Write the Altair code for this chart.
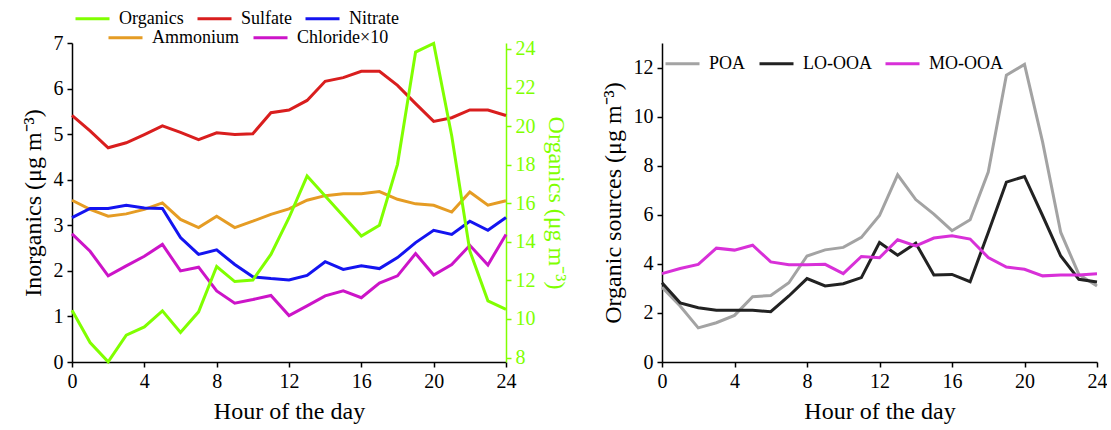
import altair as alt
import pandas as pd

hours = list(range(25))
organics = [10.45, 8.78, 7.78, 9.16, 9.59, 10.42, 9.30, 10.37, 12.72, 11.94, 12.02, 13.35, 15.25,
            17.41, 16.38, 15.34, 14.30, 14.86, 18.02, 23.84, 24.29, 19.49, 13.53, 10.94, 10.50]
sulfate = [5.41, 5.07, 4.70, 4.81, 4.99, 5.18, 5.04, 4.88, 5.03, 4.99, 5.01, 5.47, 5.53,
           5.74, 6.16, 6.24, 6.38, 6.38, 6.07, 5.67, 5.28, 5.36, 5.53, 5.53, 5.41]
nitrate = [3.17, 3.37, 3.37, 3.44, 3.38, 3.37, 2.73, 2.36, 2.46, 2.14, 1.87, 1.83, 1.80,
           1.90, 2.20, 2.03, 2.11, 2.05, 2.29, 2.62, 2.89, 2.80, 3.09, 2.89, 3.17]
ammonium = [3.55, 3.35, 3.20, 3.25, 3.35, 3.49, 3.13, 2.95, 3.20, 2.95, 3.09, 3.24, 3.36,
            3.55, 3.65, 3.69, 3.69, 3.74, 3.57, 3.47, 3.44, 3.29, 3.73, 3.44, 3.54]
chloride10 = [2.81, 2.43, 1.89, 2.11, 2.32, 2.58, 2.00, 2.08, 1.56, 1.29, 1.37, 1.46, 1.02,
              1.23, 1.45, 1.56, 1.41, 1.73, 1.89, 2.38, 1.91, 2.14, 2.56, 2.13, 2.80]
poa = [3.05, 2.28, 1.39, 1.60, 1.90, 2.66, 2.71, 3.23, 4.32, 4.57, 4.67, 5.08, 5.97,
       7.63, 6.62, 6.03, 5.35, 5.80, 7.74, 11.69, 12.13, 8.96, 5.28, 3.57, 3.10]
lo_ooa = [3.23, 2.41, 2.21, 2.11, 2.11, 2.11, 2.05, 2.69, 3.40, 3.10, 3.19, 3.44, 4.87,
          4.35, 4.84, 3.55, 3.57, 3.27, 5.28, 7.33, 7.56, 5.96, 4.32, 3.37, 3.26]
mo_ooa = [3.60, 3.81, 3.98, 4.64, 4.56, 4.76, 4.08, 3.96, 3.96, 3.98, 3.60, 4.30, 4.25,
          4.98, 4.73, 5.05, 5.14, 5.01, 4.26, 3.87, 3.78, 3.51, 3.55, 3.55, 3.60]

x_ticks = [0, 4, 8, 12, 16, 20, 24]
left_ticks = [0, 1, 2, 3, 4, 5, 6, 7]
org_ticks = [8, 10, 12, 14, 16, 18, 20, 22, 24]
src_ticks = [0, 2, 4, 6, 8, 10, 12]

row1_names = ["Organics", "Sulfate", "Nitrate"]
row1_colors = ["#80FF00", "#D91E1E", "#1414F0"]
row2_names = ["Ammonium", "Chloride×10"]
row2_colors = ["#E59C24", "#CC14C8"]
src_names = ["POA", "LO-OOA", "MO-OOA"]
src_colors = ["#A3A3A3", "#222222", "#D830D8"]

GREEN = "#80FF00"
FONT = "Liberation Serif"


def long(names, series):
    rows = []
    for n, s in zip(names, series):
        for h, v in zip(hours, s):
            rows.append({"hour": h, "value": v, "series": n})
    return pd.DataFrame(rows)


df_org = long(["Organics"], [organics])
df_b = long(["Sulfate", "Nitrate"], [sulfate, nitrate])
df_c = long(row2_names, [ammonium, chloride10])
df_src = long(src_names, [poa, lo_ooa, mo_ooa])

W, H = 434, 319

axis_common = dict(grid=False, labelFont=FONT, titleFont=FONT, labelFontSize=20,
                   titleFontSize=24, titleFontWeight="normal")

x_enc = alt.X("hour:Q", scale=alt.Scale(domain=[0, 24], nice=False),
              axis=alt.Axis(values=x_ticks, title="Hour of the day", labelFlush=False,
                            **axis_common))

legend_common = dict(orient="none", direction="horizontal", title=None,
                     symbolType="stroke", symbolSize=1156, symbolStrokeWidth=3,
                     labelFontSize=18, labelFont=FONT, labelColor="black",
                     labelOffset=8, columnPadding=7, padding=0)

color_scale = alt.Scale(domain=row1_names, range=row1_colors)

layer_b = alt.Chart(df_b).mark_line(strokeWidth=3).encode(
    x=x_enc,
    y=alt.Y("value:Q", scale=alt.Scale(domain=[0, 7], nice=False),
            axis=alt.Axis(values=left_ticks, title="Inorganics (μg m⁻³)", **axis_common)),
    color=alt.Color("series:N", scale=color_scale,
                    legend=alt.Legend(legendX=2, legendY=-43, **legend_common)),
)

layer_c = alt.Chart(df_c).mark_line(strokeWidth=3).encode(
    x=x_enc,
    y=alt.Y("value:Q", scale=alt.Scale(domain=[0, 7], nice=False), axis=None),
    stroke=alt.Stroke("series:N", scale=alt.Scale(domain=row2_names, range=row2_colors),
                      legend=alt.Legend(legendX=35, legendY=-24, **legend_common)),
)

layer_a = alt.Chart(df_org).mark_line(strokeWidth=3).encode(
    x=x_enc,
    y=alt.Y("value:Q", scale=alt.Scale(domain=[7.77, 24.31], nice=False),
            axis=alt.Axis(orient="right", values=org_ticks, title="Organics (μg m⁻³)",
                          labelColor=GREEN, titleColor=GREEN,
                          domainColor=GREEN, tickColor=GREEN, **axis_common)),
    color=alt.Color("series:N", scale=color_scale, legend=None),
)

left = alt.layer(layer_c, layer_b, layer_a).resolve_scale(y="independent").properties(
    width=W, height=H)

right = alt.Chart(df_src).mark_line(strokeWidth=3).encode(
    x=x_enc,
    y=alt.Y("value:Q", scale=alt.Scale(domain=[0, 13], nice=False),
            axis=alt.Axis(values=src_ticks, title="Organic sources (μg m⁻³)", **axis_common)),
    color=alt.Color("series:N", scale=alt.Scale(domain=src_names, range=src_colors),
                    legend=alt.Legend(legendX=2, legendY=2, **legend_common)),
).properties(width=435, height=H)

chart = alt.hconcat(left, right, spacing=34).resolve_scale(
    color="independent", stroke="independent"
).properties(
    padding={"left": 21, "top": 0, "right": 0, "bottom": 5}
).configure(font=FONT).configure_view(stroke=None).configure_axis(
    labelColor="black", titleColor="black",
    domainColor="black", tickColor="black", domainWidth=1.5, tickWidth=1.5,
    tickSize=5, labelPadding=4, titlePadding=8,
).configure_legend(labelLimit=0)

chart.save("out.html", embed_options={"renderer": "svg", "actions": False})
